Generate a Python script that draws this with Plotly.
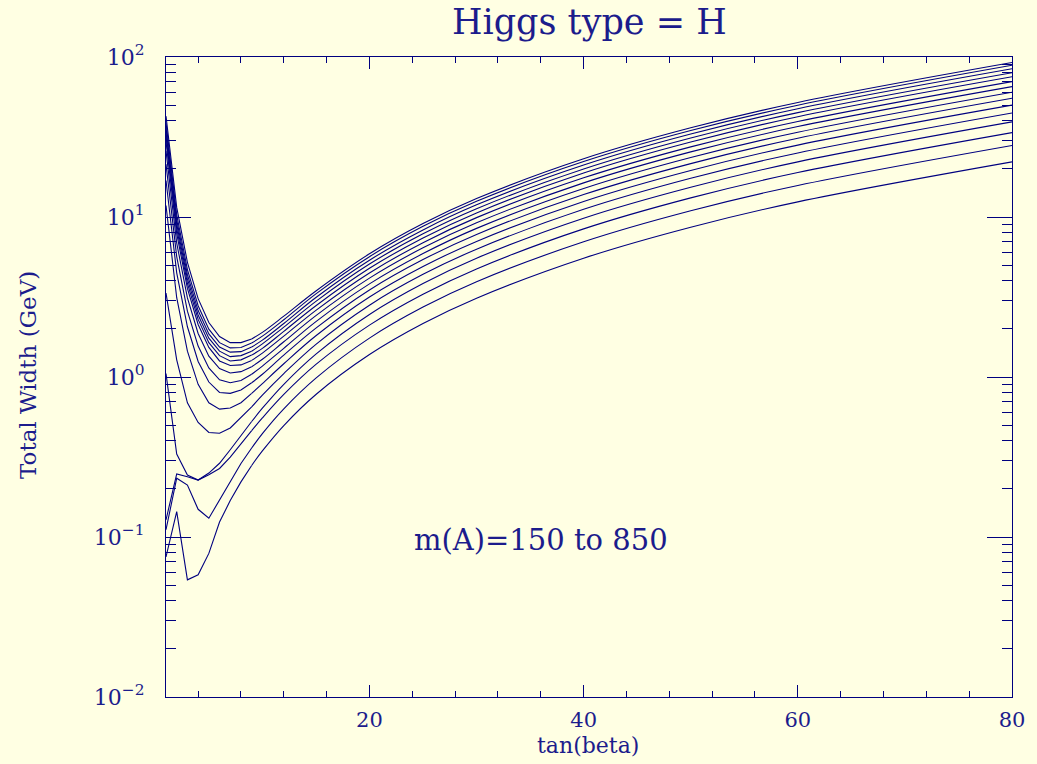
import plotly.graph_objects as go

tan_beta = [1, 2, 3, 4, 5, 6, 7, 8, 9, 10, 12, 15, 20, 25, 30, 40, 50, 60, 80]

mA_values = [150, 200, 250, 300, 350, 400, 450, 500, 550, 600, 650, 700, 750, 800, 850]

width_150 = [0.075, 0.144, 0.054, 0.058, 0.079, 0.124, 0.169, 0.221, 0.28, 0.345, 0.497, 0.777, 1.381, 2.158, 3.108, 5.525, 8.63, 12.43, 22.1]
width_200 = [0.111, 0.233, 0.211, 0.149, 0.131, 0.17, 0.225, 0.288, 0.36, 0.443, 0.633, 0.984, 1.75, 2.734, 3.94, 7.0, 10.94, 15.75, 28.0]
width_250 = [0.128, 0.248, 0.238, 0.227, 0.245, 0.268, 0.316, 0.381, 0.462, 0.555, 0.778, 1.198, 2.11, 3.291, 4.739, 8.43, 13.17, 18.96, 33.7]
width_300 = [1.05, 0.33, 0.244, 0.227, 0.251, 0.289, 0.351, 0.431, 0.527, 0.638, 0.90, 1.39, 2.46, 3.838, 5.527, 9.83, 15.35, 22.11, 39.3]
width_350 = [3.35, 1.28, 0.69, 0.52, 0.45, 0.445, 0.48, 0.555, 0.65, 0.77, 1.05, 1.60, 2.81, 4.38, 6.29, 11.17, 17.46, 25.14, 44.7]
width_400 = [11.8, 3.13, 1.45, 0.90, 0.69, 0.63, 0.64, 0.69, 0.79, 0.91, 1.21, 1.81, 3.16, 4.90, 7.04, 12.51, 19.53, 28.13, 50.0]
width_450 = [16.9, 4.48, 2.06, 1.25, 0.93, 0.80, 0.79, 0.83, 0.92, 1.04, 1.37, 2.02, 3.50, 5.42, 7.78, 13.81, 21.56, 31.05, 55.2]
width_500 = [21.4, 5.66, 2.58, 1.56, 1.14, 0.96, 0.92, 0.95, 1.04, 1.17, 1.51, 2.22, 3.82, 5.91, 8.49, 15.06, 23.52, 33.86, 60.2]
width_550 = [25.9, 6.87, 3.12, 1.87, 1.35, 1.13, 1.06, 1.08, 1.16, 1.29, 1.66, 2.42, 4.15, 6.42, 9.21, 16.34, 25.52, 36.74, 65.3]
width_600 = [29.6, 7.87, 3.58, 2.13, 1.53, 1.26, 1.18, 1.19, 1.27, 1.41, 1.80, 2.61, 4.47, 6.91, 9.91, 17.57, 27.43, 39.5, 70.2]
width_650 = [31.9, 8.47, 3.85, 2.29, 1.64, 1.36, 1.26, 1.28, 1.37, 1.51, 1.93, 2.79, 4.78, 7.40, 10.61, 18.82, 29.39, 42.31, 75.2]
width_700 = [34.0, 9.02, 4.10, 2.44, 1.75, 1.45, 1.34, 1.36, 1.45, 1.61, 2.05, 2.97, 5.08, 7.85, 11.26, 19.97, 31.19, 44.9, 79.8]
width_750 = [36.2, 9.60, 4.36, 2.60, 1.86, 1.54, 1.43, 1.44, 1.54, 1.70, 2.16, 3.14, 5.37, 8.30, 11.91, 21.12, 32.99, 47.49, 84.4]
width_800 = [38.9, 10.33, 4.69, 2.79, 1.99, 1.64, 1.52, 1.53, 1.63, 1.80, 2.28, 3.31, 5.65, 8.74, 12.53, 22.2, 34.69, 49.96, 88.8]
width_850 = [42.7, 11.48, 5.21, 3.09, 2.19, 1.79, 1.64, 1.64, 1.73, 1.90, 2.40, 3.45, 5.89, 9.10, 13.05, 23.13, 36.1, 52.0, 92.4]

series = [width_150, width_200, width_250, width_300, width_350, width_400, width_450,
          width_500, width_550, width_600, width_650, width_700, width_750, width_800, width_850]

y_tickvals = [0.01, 0.1, 1, 10, 100]
y_ticktext = ["10<sup>\u22122</sup>", "10<sup>\u22121</sup>", "10<sup>0</sup>", "10<sup>1</sup>", "10<sup>2</sup>"]
x_tickvals = [20, 40, 60, 80]
x_ticktext = ["20", "40", "60", "80"]

LINE = "#00007f"
TEXT = "#1c1c8c"
BG = "#ffffe3"
FONT = "DejaVu Serif"

# index where the smooth (large tan(beta)) part starts
SPLIT = tan_beta.index(9)

fig = go.Figure()
for m, ys in zip(mA_values, series):
    fig.add_trace(go.Scatter(x=tan_beta[:SPLIT + 1], y=ys[:SPLIT + 1], mode="lines",
                             name=f"m(A)={m}", line=dict(color=LINE, width=1.1),
                             showlegend=False))
    fig.add_trace(go.Scatter(x=tan_beta[SPLIT:], y=ys[SPLIT:], mode="lines",
                             name=f"m(A)={m}", line=dict(color=LINE, width=1.1, shape="spline",
                                                         smoothing=1.0),
                             showlegend=False))

fig.update_layout(
    width=1037, height=764,
    margin=dict(l=166, r=25, t=57, b=67),
    paper_bgcolor=BG, plot_bgcolor=BG,
    font=dict(family=FONT, color=TEXT, size=19),
    showlegend=False,
)

fig.update_xaxes(
    range=[1, 80], showgrid=False, zeroline=False,
    showline=True, linecolor=LINE, linewidth=1.2, mirror="allticks",
    ticks="inside", ticklen=12, tickcolor=LINE, tickwidth=1,
    tickvals=x_tickvals, ticktext=x_ticktext,
    tickfont=dict(family=FONT, size=21, color=TEXT),
    ticklabelstandoff=4,
    minor=dict(ticks="inside", ticklen=6, dtick=4, tick0=0, tickcolor=LINE, showgrid=False),
)

fig.update_yaxes(
    type="log", range=[-2, 2], showgrid=False, zeroline=False,
    showline=True, linecolor=LINE, linewidth=1.2, mirror="allticks",
    ticks="inside", ticklen=25, tickcolor=LINE, tickwidth=1,
    tickvals=y_tickvals, ticktext=y_ticktext,
    tickfont=dict(family=FONT, size=22, color=TEXT),
    ticklabelstandoff=16,
    minor=dict(ticks="inside", ticklen=10, dtick="D1", tickcolor=LINE, showgrid=False),
)

PLOT_W = 846.0
PLOT_H = 640.0
PLOT_BOTTOM = 697
PLOT_LEFT = 166

# title
fig.add_annotation(text="Higgs type = H", xref="paper", yref="paper",
                   x=(589 - PLOT_LEFT) / PLOT_W, y=(PLOT_BOTTOM - 22) / PLOT_H,
                   yanchor="middle", xanchor="center", showarrow=False,
                   font=dict(family=FONT, size=35, color=TEXT))
# x axis title
fig.add_annotation(text="tan(beta)", xref="paper", yref="paper",
                   x=(588 - PLOT_LEFT) / PLOT_W, y=-(745 - PLOT_BOTTOM) / PLOT_H,
                   yanchor="middle", xanchor="center", showarrow=False,
                   font=dict(family=FONT, size=22, color=TEXT))
# y axis title
fig.add_annotation(text="Total Width (GeV)", xref="paper", yref="paper",
                   x=(28 - PLOT_LEFT) / PLOT_W, y=(PLOT_BOTTOM - 375) / PLOT_H,
                   yanchor="middle", xanchor="center", showarrow=False, textangle=-90,
                   font=dict(family=FONT, size=23, color=TEXT))

fig.add_annotation(text="m(A)=150 to 850", x=36, y=-1.02, xref="x", yref="y",
                   showarrow=False, xanchor="center", yanchor="middle",
                   font=dict(family=FONT, size=29, color=TEXT))

fig.write_html("out.html")
